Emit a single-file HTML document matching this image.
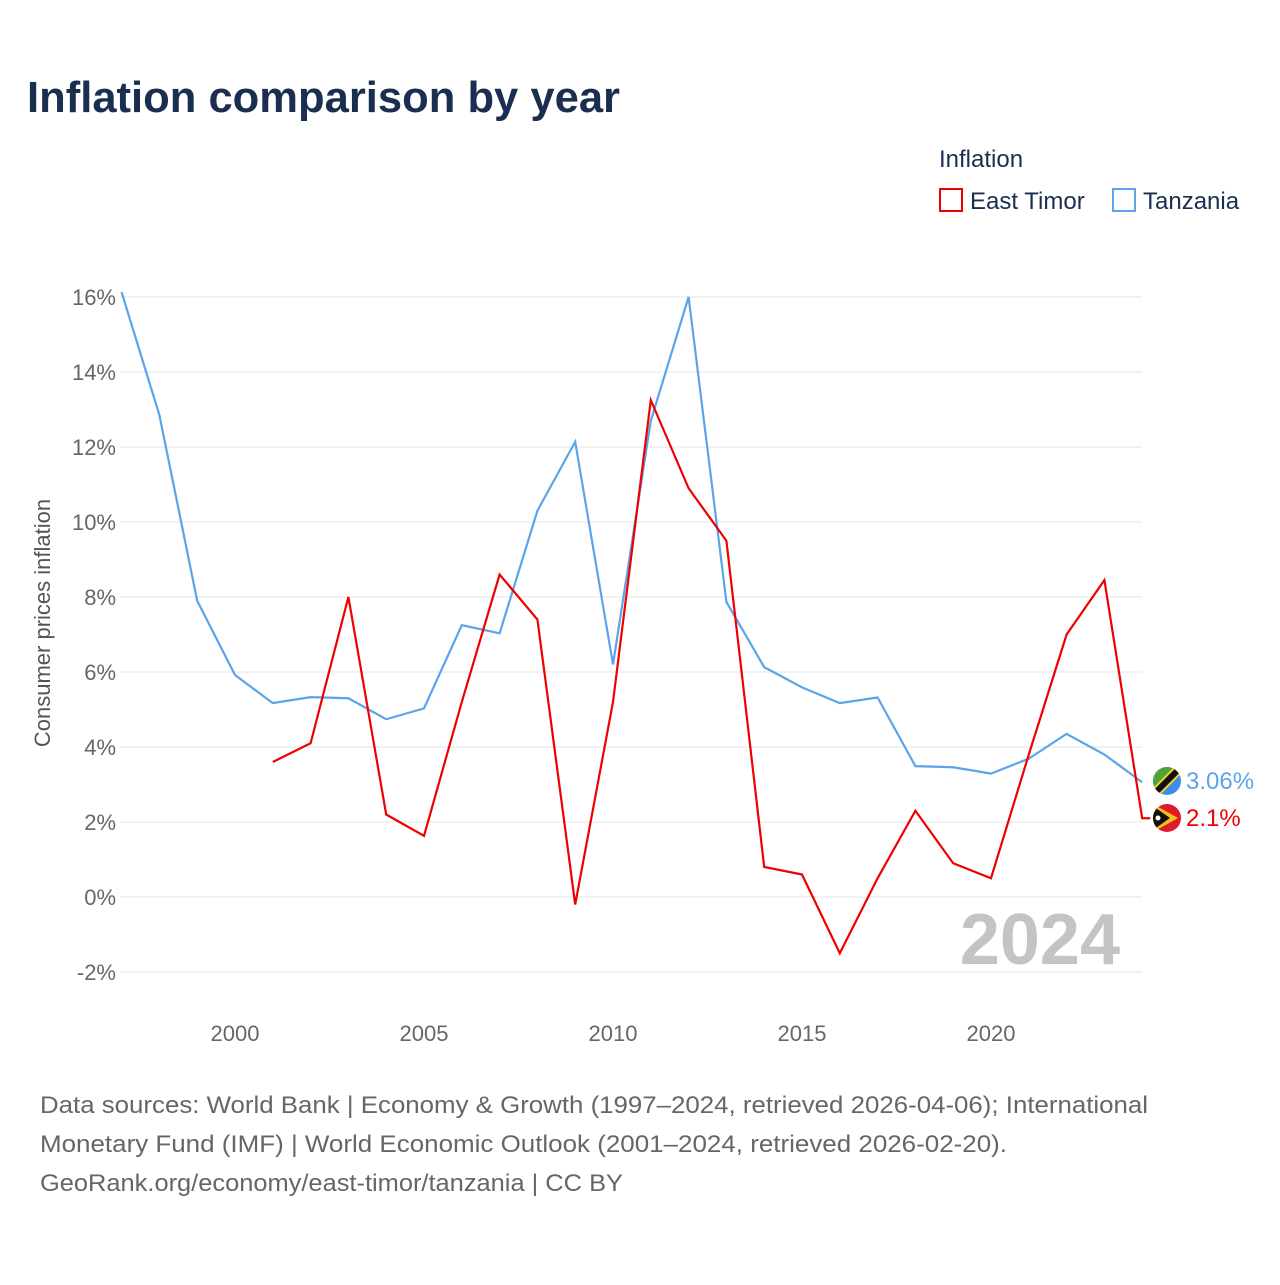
<!DOCTYPE html>
<html><head><meta charset="utf-8"><style>
body{margin:0;background:#fff;font-family:"Liberation Sans",sans-serif}
</style></head><body>
<svg id="c" width="1280" height="1280" xmlns="http://www.w3.org/2000/svg">
<text x="27" y="112" font-size="44" font-weight="bold" fill="#1a2e4f" textLength="593" lengthAdjust="spacingAndGlyphs">Inflation comparison by year</text>
<text x="939" y="167" font-size="24" fill="#1a2e4f">Inflation</text>
<g><rect x="940" y="189" width="22" height="22" fill="none" stroke="#ee0000" stroke-width="2"/><text x="970" y="209" font-size="24" fill="#1a2e4f">East Timor</text></g>
<g><rect x="1113" y="189" width="22" height="22" fill="none" stroke="#5ba4ea" stroke-width="2"/><text x="1143" y="209" font-size="24" fill="#1a2e4f">Tanzania</text></g>
<text transform="translate(50,623) rotate(-90)" text-anchor="middle" font-size="22" fill="#555">Consumer prices inflation</text>
<g id="grid"></g><g id="xt"></g>
<text x="1120" y="964" text-anchor="end" font-size="72" font-weight="bold" fill="#c4c4c4">2024</text>
<g id="lines"></g>
<g><clipPath id="cl1"><circle cx="1167" cy="781" r="14"/></clipPath><g clip-path="url(#cl1)"><rect x="1150" y="764" width="34" height="34" fill="#3a8ee8"/><polygon points="1150,764 1184,764 1150,798" fill="#4fa33a"/><line x1="1184" y1="764" x2="1150" y2="798" stroke="#f3d02a" stroke-width="10"/><line x1="1184" y1="764" x2="1150" y2="798" stroke="#111" stroke-width="6"/></g></g>
<g><clipPath id="cl2"><circle cx="1167" cy="818" r="14"/></clipPath><g clip-path="url(#cl2)"><rect x="1150" y="801" width="34" height="34" fill="#dc1b2b"/><polygon points="1153,804 1178,818 1153,832" fill="#f6c21a"/><polygon points="1153,806 1170,818 1153,830" fill="#111"/><circle cx="1158" cy="818" r="2.5" fill="#fff"/></g></g>
<text x="1186" y="789" font-size="24" fill="#5ba4ea">3.06%</text>
<text x="1186" y="826" font-size="24" fill="#ee0000">2.1%</text>
<g font-size="24" fill="#666">
<text x="40" y="1113" textLength="1108" lengthAdjust="spacingAndGlyphs">Data sources: World Bank | Economy &amp; Growth (1997–2024, retrieved 2026-04-06); International</text>
<text x="40" y="1152" textLength="967" lengthAdjust="spacingAndGlyphs">Monetary Fund (IMF) | World Economic Outlook (2001–2024, retrieved 2026-02-20).</text>
<text x="40" y="1191" textLength="583" lengthAdjust="spacingAndGlyphs">GeoRank.org/economy/east-timor/tanzania | CC BY</text>
</g>
</svg>
<script>
const yTicks=[-2,0,2,4,6,8,10,12,14,16];
const xTicks=[2000,2005,2010,2015,2020];
const tzYears=[1997,1998,1999,2000,2001,2002,2003,2004,2005,2006,2007,2008,2009,2010,2011,2012,2013,2014,2015,2016,2017,2018,2019,2020,2021,2022,2023,2024];
const tzValues=[16.13,12.85,7.9,5.92,5.17,5.33,5.3,4.74,5.03,7.25,7.03,10.3,12.14,6.2,12.7,16.0,7.87,6.13,5.59,5.17,5.32,3.49,3.46,3.29,3.69,4.35,3.8,3.06];
const etYears=[2001,2002,2003,2004,2005,2006,2007,2008,2009,2010,2011,2012,2013,2014,2015,2016,2017,2018,2019,2020,2021,2022,2023,2024];
const etValues=[3.6,4.1,8.0,2.2,1.63,5.2,8.6,7.4,-0.2,5.2,13.25,10.9,9.5,0.8,0.6,-1.5,0.5,2.3,0.9,0.5,3.8,7.0,8.45,2.1];
const X=y=>121.6+(y-1997)*37.8;
const Y=v=>897-v*37.5;
const NS="http://www.w3.org/2000/svg";
const mk=(t,a,p)=>{const e=document.createElementNS(NS,t);for(const k in a)e.setAttribute(k,a[k]);p.appendChild(e);return e;};
const g=document.getElementById('grid');
yTicks.forEach(v=>{
 const l=mk('line',{x1:120,x2:1142,y1:Y(v),y2:Y(v),stroke:'#e6e6e6','stroke-width':1},g);
 
 
 const t=mk('text',{x:116,y:Y(v)+8,'text-anchor':'end','font-size':22,fill:'#666'},g);
 t.textContent=v+'%';
 
 
});
const xt=document.getElementById('xt');
xTicks.forEach(v=>{
 const t=mk('text',{x:X(v),y:1041,'text-anchor':'middle','font-size':22,fill:'#666'},xt);
 t.textContent=v;
 
 
});
const L=document.getElementById('lines');
const pts=(ys,vs)=>ys.map((y,i)=>X(y)+','+Y(vs[i])).join(' ');
const tz=mk('polyline',{points:pts(tzYears,tzValues),fill:'none',stroke:'#5ba4ea','stroke-width':2.2},L);


const et=mk('polyline',{points:pts(etYears,etValues)+' '+(X(2024)+8)+','+Y(etValues[etValues.length-1]),fill:'none',stroke:'#ee0000','stroke-width':2.2},L);


</script>
</body></html>
